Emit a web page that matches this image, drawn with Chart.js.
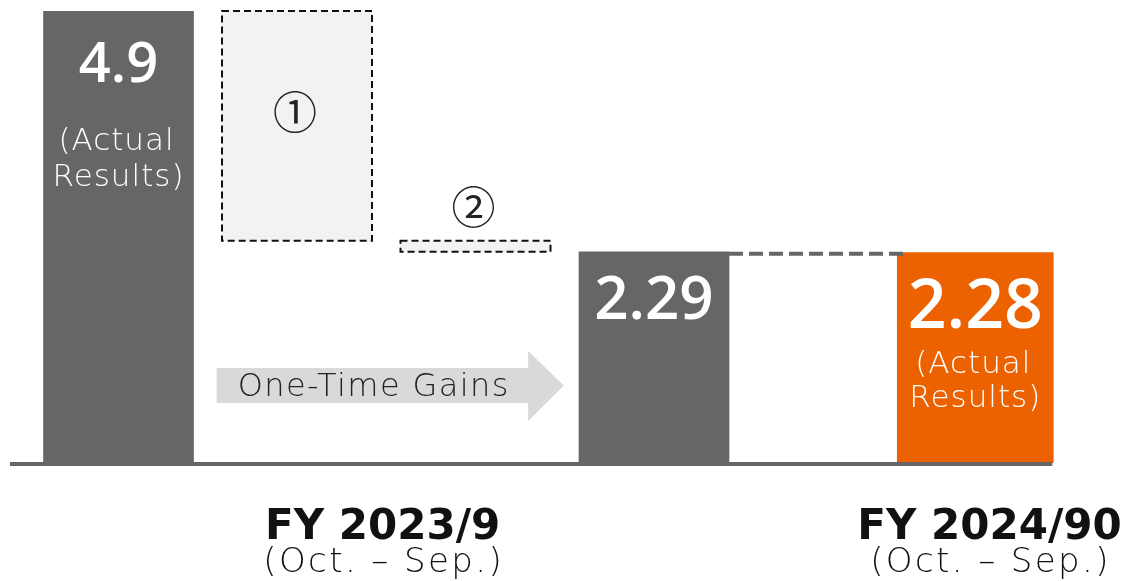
<!DOCTYPE html>
<html>
<head>
<meta charset="utf-8">
<script src="https://cdn.jsdelivr.net/npm/chart.js@4.4.1/dist/chart.umd.min.js"></script>
<style>
  html, body { margin: 0; padding: 0; background: #ffffff; }
  #wrap { width: 1127px; height: 581px; }
</style>
</head>
<body>
<div id="wrap"><canvas id="c" width="1127" height="581"></canvas></div>
<script>
// ---- data ----
const categories = ['FY2023/9 Actual', 'One-Time Gain 1', 'One-Time Gain 2', 'FY2023/9 excl. gains', 'FY2024/90 Actual'];
const slotX = [0, 1, 2, 3, 4.8];
const resultValues = [4.9, null, null, 2.29, 2.28];
const stepFrom = [null, 4.9, 2.41, null, null];
const stepTo = [null, 2.41, 2.29, null, null];
const valueLabels = ['4.9', '①', '②', '2.29', '2.28'];
const subLabels = [['(Actual', 'Results)'], null, null, null, ['(Actual', 'Results)']];
const periodLabels = ['FY 2023/9', 'FY 2024/90'];
const periodSubLabels = ['(Oct. – Sep.)', '(Oct. – Sep.)'];
const periodX = [1.48, 4.88];
const arrowLabel = 'One-Time Gains';

// ---- styles ----
const GRAY = '#666666';
const ORANGE = '#EC6100';
const STEP_FILL = '#F2F2F2';
const LIGHT_FONT = '"DejaVu Sans", "Noto Sans", sans-serif';
const NUM_FONT = '"Open Sans", "Liberation Sans", sans-serif';

const grayData = [], orangeData = [], stepData = [];
categories.forEach((c, i) => {
  if (stepFrom[i] != null) stepData.push({ x: slotX[i], y: [stepTo[i], stepFrom[i]] });
  else if (i === categories.length - 1) orangeData.push({ x: slotX[i], y: resultValues[i] });
  else if (resultValues[i] != null) grayData.push({ x: slotX[i], y: resultValues[i] });
});

function spaced(ctx, px) { if ('letterSpacing' in ctx) ctx.letterSpacing = px + 'px'; }

const overlay = {
  id: 'overlay',
  afterDatasetsDraw(chart) {
    const ctx = chart.ctx;
    const xs = chart.scales.x, ys = chart.scales.y;
    const area = chart.chartArea;
    const metaGray = chart.getDatasetMeta(0);
    const metaStep = chart.getDatasetMeta(1);
    const metaOrange = chart.getDatasetMeta(2);

    ctx.save();
    // dashed outlines of step boxes
    ctx.strokeStyle = '#111';
    ctx.lineWidth = 2;
    ctx.setLineDash([7, 4]);
    metaStep.data.forEach(el => {
      const p = el.getProps(['x', 'y', 'base', 'width'], true);
      const top = Math.min(p.y, p.base), h = Math.abs(p.base - p.y);
      ctx.strokeRect(p.x - p.width / 2, top, p.width, h);
    });

    // connector dashed line
    const b3 = metaGray.data[1].getProps(['x', 'y', 'width'], true);
    const o = metaOrange.data[0].getProps(['x', 'y', 'width'], true);
    ctx.strokeStyle = GRAY;
    ctx.lineWidth = 4;
    ctx.setLineDash([14, 6]);
    ctx.beginPath();
    ctx.moveTo(b3.x + b3.width / 2, b3.y + 2);
    ctx.lineTo(o.x - o.width / 2 + 7, b3.y + 2);
    ctx.stroke();
    ctx.setLineDash([]);

    // axis base line
    const y0 = ys.getPixelForValue(0);
    ctx.strokeStyle = GRAY;
    ctx.lineWidth = 4;
    ctx.beginPath();
    ctx.moveTo(area.left + 10, y0 + 1);
    ctx.lineTo(o.x + o.width / 2 - 1, y0 + 1);
    ctx.stroke();

    // arrow
    const ax0 = xs.getPixelForValue(0.55), ax1 = xs.getPixelForValue(2.495), axh = xs.getPixelForValue(2.295);
    const sT = ys.getPixelForValue(1.03), sB = ys.getPixelForValue(0.65);
    const hT = ys.getPixelForValue(1.214), hB = ys.getPixelForValue(0.455);
    const mid = (sT + sB) / 2;
    ctx.fillStyle = '#D9D9D9';
    ctx.beginPath();
    ctx.moveTo(ax0, sT); ctx.lineTo(axh, sT); ctx.lineTo(axh, hT); ctx.lineTo(ax1, mid);
    ctx.lineTo(axh, hB); ctx.lineTo(axh, sB); ctx.lineTo(ax0, sB); ctx.closePath();
    ctx.fill();
    ctx.fillStyle = '#222';
    ctx.font = '200 32px ' + LIGHT_FONT;
    spaced(ctx, 1.4);
    ctx.textAlign = 'left';
    ctx.textBaseline = 'alphabetic';
    ctx.fillText(arrowLabel, ax0 + 21, mid + 10);
    spaced(ctx, 0);

    // labels in bars
    const allMeta = { 0: metaGray.data[0], 3: metaGray.data[1], 4: metaOrange.data[0] };
    const numSize = { 0: 56, 3: 60, 4: 68 };
    const numBase = { 0: 82, 3: 321, 4: 329 };
    ctx.textAlign = 'center';
    [0, 3, 4].forEach(i => {
      const el = allMeta[i];
      const topPx = el.y;
      ctx.fillStyle = '#ffffff';
      ctx.font = '600 ' + numSize[i] + 'px ' + NUM_FONT;
      spaced(ctx, 0);
      const nb = topPx + (numBase[i] - (i === 0 ? 11 : 254));
      ctx.fillText(valueLabels[i], el.x, nb);
      if (subLabels[i]) {
        ctx.font = '200 31px ' + LIGHT_FONT;
        spaced(ctx, 1);
        ctx.fillText(subLabels[i][0], el.x - 2, nb + (i === 0 ? 68 : 45));
        ctx.fillText(subLabels[i][1], el.x, nb + (i === 0 ? 104 : 79));
        spaced(ctx, 0);
      }
    });

    // circled step numbers
    ctx.fillStyle = '#222';
    ctx.font = '44px "Noto Sans CJK JP", sans-serif';
    ctx.textBaseline = 'middle';
    metaStep.data.forEach((el, k) => {
      const idx = k + 1;
      const p = el.getProps(['x', 'y', 'base'], true);
      const top = Math.min(p.y, p.base);
      const ly = idx === 1 ? top + 101 : top - 33;
      ctx.fillText(valueLabels[idx], p.x - 2, ly);
    });

    // period labels
    ctx.textBaseline = 'alphabetic';
    ctx.fillStyle = '#111';
    periodLabels.forEach((t, k) => {
      const px = xs.getPixelForValue(periodX[k]);
      ctx.font = 'bold 42px ' + LIGHT_FONT;
      spaced(ctx, 0);
      ctx.fillText(t, px, y0 + 76);
      ctx.font = '200 34px ' + LIGHT_FONT;
      spaced(ctx, 2.4);
      ctx.fillText(periodSubLabels[k], px + 1, y0 + 109);
      spaced(ctx, 0);
    });
    ctx.restore();
  }
};

new Chart(document.getElementById('c'), {
  type: 'bar',
  data: {
    datasets: [
      { label: 'Results', data: grayData, backgroundColor: GRAY, barThickness: 150, grouped: false, borderWidth: 0 },
      { label: 'One-Time Gains', data: stepData, backgroundColor: STEP_FILL, barThickness: 150, grouped: false, borderWidth: 0 },
      { label: 'FY2024/90', data: orangeData, backgroundColor: ORANGE, barThickness: 156, grouped: false, borderWidth: 0 }
    ]
  },
  options: {
    responsive: false,
    devicePixelRatio: 1,
    animation: false,
    layout: { padding: { top: 11, bottom: 118, left: 0, right: 0 } },
    scales: {
      x: { type: 'linear', min: -0.664, max: 5.65, offset: false, display: false },
      y: { min: 0, max: 4.9, display: false }
    },
    plugins: { legend: { display: false }, tooltip: { enabled: false } }
  },
  plugins: [overlay]
});
</script>
</body>
</html>
